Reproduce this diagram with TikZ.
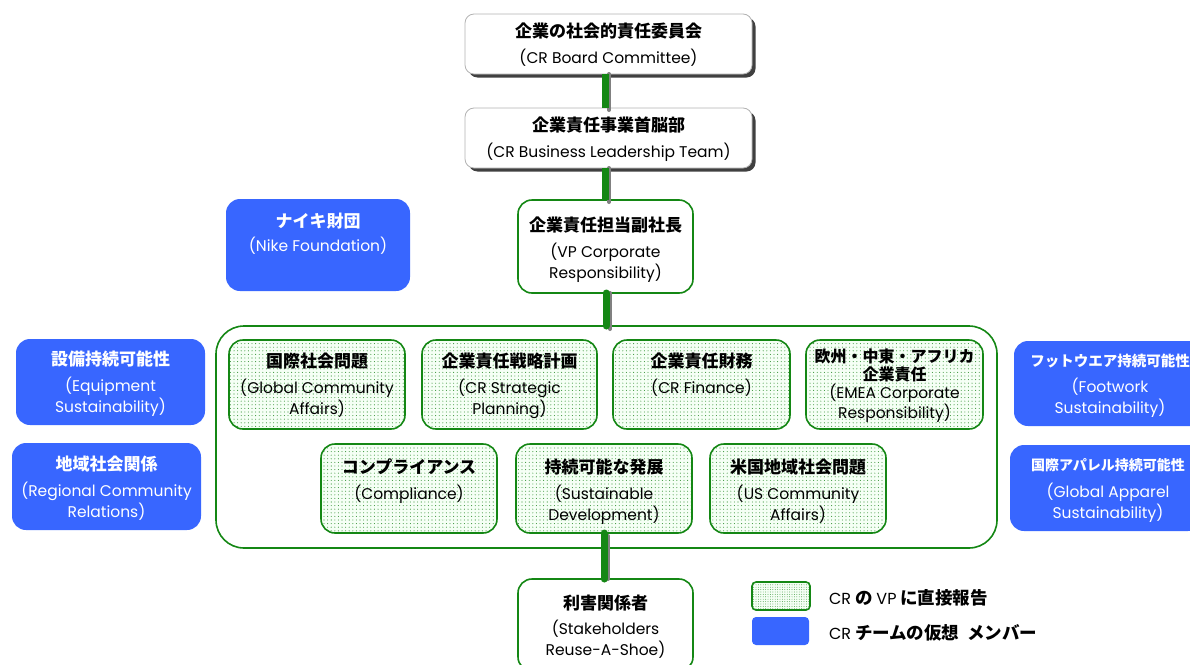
\documentclass[tikz,border=0pt]{standalone}
\usepackage{fontspec}
\setmainfont{Noto Sans CJK JP}
\newfontfamily\jpf{Noto Sans CJK JP}
\newfontfamily\en{Poppins}
\usetikzlibrary{patterns.meta,shadows}
\definecolor{crgreen}{RGB}{20,135,20}
\definecolor{crblue}{RGB}{56,102,255}
\definecolor{dotgreen}{RGB}{60,150,60}
\newcommand{\jpl}[1]{{\jpf\fontsize{17}{21}\selectfont\bfseries #1}}
\newcommand{\jps}[2]{{\jpf\fontsize{#1}{21}\selectfont\bfseries #2}}
\begin{document}
\begin{tikzpicture}[x=1pt,y=-1pt,
  every node/.style={inner sep=0pt,outer sep=0pt},
  topbox/.style={draw=black!30,fill=white,rounded corners=9pt,line width=0.8pt,
    drop shadow={shadow xshift=3.5pt,shadow yshift=-3.5pt,fill=black!75,opacity=1}},
  whitebox/.style={draw=crgreen,fill=white,rounded corners=14pt,line width=1.6pt},
  dotbox/.style={draw=crgreen,rounded corners=14pt,line width=1.6pt,
    preaction={fill=green!4},pattern={Dots[distance=3.6pt,radius=0.55pt]},pattern color=dotgreen},
  bluebox/.style={fill=crblue,rounded corners=14pt},
  container/.style={draw=crgreen,rounded corners=28pt,line width=1.6pt},
  txt/.style={align=center,anchor=north,font=\en\fontsize{15.5}{21}\selectfont},
  wtxt/.style={txt,text=white},
  conn/.style={line width=7pt,crgreen},
  connshadow/.style={line width=4pt,black!50,line cap=round}
]
\useasboundingbox (0,0) rectangle (1190,664);
\clip (0,0) rectangle (1190,664);

% boxes
\node[topbox,minimum width=287pt,minimum height=60pt] (board) at (608.5,44) {};
\node[topbox,minimum width=287pt,minimum height=60pt] (blt) at (608.5,138) {};
\node[whitebox,minimum width=175pt,minimum height=93pt] (vp) at (605.5,246.5) {};
\node[bluebox,minimum width=184pt,minimum height=92pt] (nike) at (318,245) {};
\node[container,minimum width=781pt,minimum height=222pt] (cont) at (606.5,437) {};

\node[dotbox,minimum width=176pt,minimum height=89pt] (gca) at (317,384.5) {};
\node[dotbox,minimum width=175pt,minimum height=89pt] (csp) at (509.5,384.5) {};
\node[dotbox,minimum width=177pt,minimum height=89pt] (fin) at (701.5,384.5) {};
\node[dotbox,minimum width=177pt,minimum height=89pt] (emea) at (894.5,384.5) {};
\node[dotbox,minimum width=176pt,minimum height=89pt] (comp) at (409,488.5) {};
\node[dotbox,minimum width=176pt,minimum height=89pt] (sd) at (604,488.5) {};
\node[dotbox,minimum width=176pt,minimum height=89pt] (us) at (798,488.5) {};

\node[whitebox,minimum width=175pt,minimum height=92pt] (stake) at (605.5,625) {};

\node[bluebox,minimum width=189pt,minimum height=86pt] (equip) at (110.5,382) {};
\node[bluebox,minimum width=189pt,minimum height=87pt] (regional) at (106.5,486.5) {};
\node[bluebox,minimum width=192pt,minimum height=85pt] (foot) at (1110,383.5) {};
\node[bluebox,minimum width=192pt,minimum height=86pt] (gap) at (1106,488) {};

% legend
\node[dotbox,rounded corners=4pt,pattern={Dots[distance=2.4pt,radius=0.45pt]},minimum width=58pt,minimum height=28pt] (legdot) at (781,596) {};
\node[bluebox,rounded corners=4pt,minimum width=57pt,minimum height=28pt] (legblue) at (780.5,631) {};
\node[anchor=west,font=\jpf\fontsize{17.5}{19}\selectfont] (legdottxt) at (829,598) {{\en\fontsize{16}{19}\selectfont CR} \textbf{の} {\en\fontsize{16}{19}\selectfont VP} \textbf{に直接報告}};
\node[anchor=west,font=\jpf\fontsize{17.5}{19}\selectfont] (legbluetxt) at (829,633) {{\en\fontsize{16}{19}\selectfont CR} \textbf{チームの仮想\ \ メンバー}};

% connectors
\coordinate (c1a) at (605,74);
\draw[connshadow] ([xshift=4pt]board.south -| c1a) -- ([xshift=4pt,yshift=-2pt]blt.north -| c1a);
\draw[conn] (board.south -| c1a) -- (blt.north -| c1a);
\draw[connshadow] ([xshift=4pt]blt.south -| c1a) -- ([xshift=4pt,yshift=-2pt]vp.north -| c1a);
\draw[conn] (blt.south -| c1a) -- (vp.north -| c1a);
\coordinate (c2a) at (606,300);
\draw[connshadow] ([xshift=4pt]vp.south -| c2a) -- ([xshift=4pt,yshift=-3pt]cont.north -| c2a);
\draw[conn,line cap=round] (vp.south -| c2a) -- (cont.north -| c2a);
\coordinate (c3a) at (604,540);
\draw[connshadow] ([xshift=4pt,yshift=-3pt]sd.south -| c3a) -- ([xshift=4pt]stake.north -| c3a);
\draw[conn,line cap=round] (sd.south -| c3a) -- (stake.north -| c3a);

% texts
\node[txt] (board-t) at (608.5,23) {\jpl{企業の社会的責任委員会}\\[5pt](CR Board Committee)};
\node[txt] (blt-t) at (608.5,117) {\jpl{企業責任事業首脳部}\\[5pt](CR Business Leadership Team)};
\node[txt] (vp-t) at (605.5,217) {\jpl{企業責任担当副社長}\\[5pt](VP Corporate\\Responsibility)};
\node[wtxt] (nike-t) at (318,213) {\jpl{ナイキ財団}\\[3pt](Nike Foundation)};
\node[txt] (gca-t) at (317,353) {\jpl{国際社会問題}\\[5pt](Global Community\\Affairs)};
\node[txt] (csp-t) at (509.5,353) {\jpl{企業責任戦略計画}\\[5pt](CR Strategic\\Planning)};
\node[txt] (fin-t) at (701.5,353) {\jpl{企業責任財務}\\[5pt](CR Finance)};
\node[txt,font=\en\fontsize{15.5}{18}\selectfont] (emea-t) at (894.5,349) {{\jpf\fontsize{16}{19}\selectfont\bfseries 欧州・中東・アフリカ}\\{\jpf\fontsize{16}{19}\selectfont\bfseries 企業責任}\\(EMEA Corporate\\Responsibility)};
\node[txt] (comp-t) at (409,459) {\jpl{コンプライアンス}\\[5pt](Compliance)};
\node[txt] (sd-t) at (604,459) {\jpl{持続可能な発展}\\[5pt](Sustainable\\Development)};
\node[txt] (us-t) at (798,459) {\jpl{米国地域社会問題}\\[5pt](US Community\\Affairs)};
\node[txt] (stake-t) at (605.5,595) {\jpl{利害関係者}\\[4pt](Stakeholders\\Reuse-A-Shoe)};
\node[wtxt] (equip-t) at (110.5,351) {\jpl{設備持続可能性}\\[5pt](Equipment\\Sustainability)};
\node[wtxt] (regional-t) at (106.5,456) {\jpl{地域社会関係}\\[5pt](Regional Community\\Relations)};
\node[wtxt] (foot-t) at (1110,354) {\jps{14.5}{フットウエア持続可能性}\\[5pt](Footwork\\Sustainability)};
\node[wtxt] (gap-t) at (1108,458) {\jps{14}{国際アパレル持続可能性}\\[6pt](Global Apparel\\Sustainability)};
\end{tikzpicture}
\end{document}
